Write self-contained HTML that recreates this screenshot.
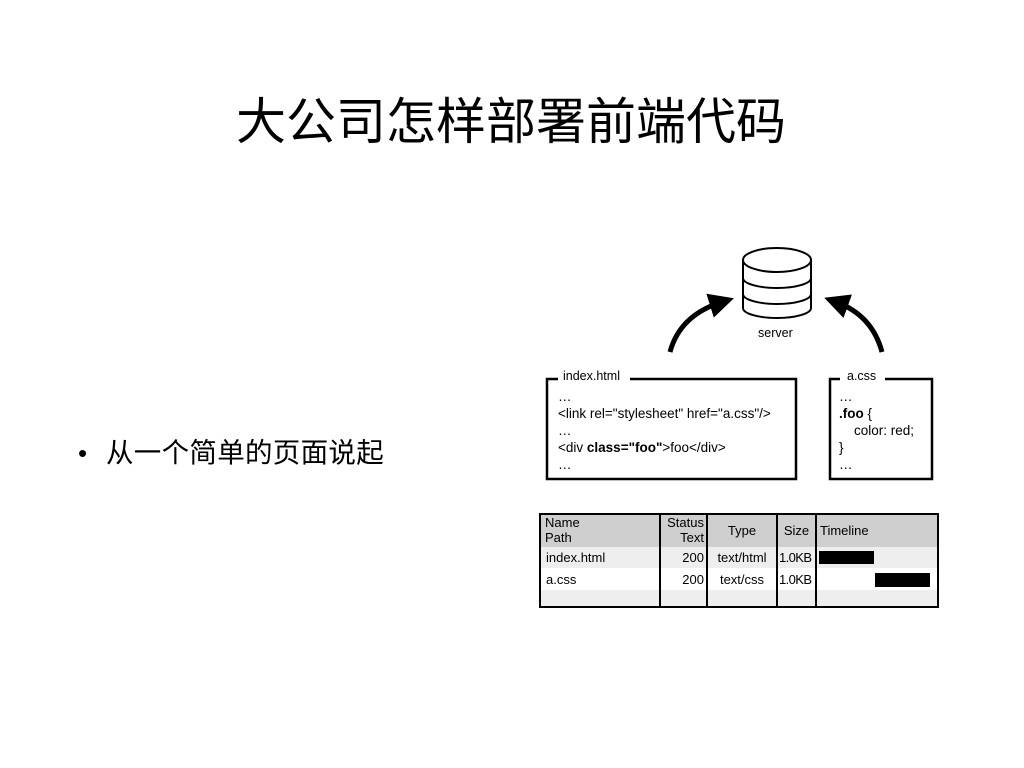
<!DOCTYPE html>
<html><head><meta charset="utf-8"><style>
body{margin:0;width:1024px;height:768px;background:#fff;position:relative;overflow:hidden;font-family:"Liberation Sans","Noto Sans CJK SC",sans-serif;color:#000}
.a{position:absolute;white-space:nowrap}
.s{font-size:12.5px}
.c{font-size:13.5px}
.t{font-size:13px}
</style></head><body>
<div class="a" style="left:0;width:1022px;top:90px;text-align:center;font-size:50px;line-height:64px">大公司怎样部署前端代码</div>
<div class="a" style="left:78px;top:436px;font-size:26px;line-height:34px">•</div>
<div class="a" style="left:106px;top:436px;font-size:27.5px;line-height:34px;letter-spacing:0.3px">从一个简单的页面说起</div>
<svg class="a" style="left:0;top:0" width="1024" height="768">
<defs><marker id="ah" markerWidth="5" markerHeight="5" refX="2.5" refY="2.5" orient="auto"><path d="M0,0 L5,2.5 L0,5 z" fill="#000"/></marker></defs>
<g stroke="#000" stroke-width="2" fill="#fff">
<path d="M743,260 L743,308 A34,10 0 0 0 811,308 L811,260"/>
<ellipse cx="777" cy="260" rx="34" ry="12"/>
<path d="M743,278 A34,10 0 0 0 811,278 M743,294 A34,10 0 0 0 811,294" fill="none"/>
</g>
<path d="M670,352 Q680,315 722,302" stroke="#000" stroke-width="5" fill="none" marker-end="url(#ah)"/>
<path d="M882,352 Q872,315 836,302" stroke="#000" stroke-width="5" fill="none" marker-end="url(#ah)"/>
<g stroke="#000" stroke-width="2.5" fill="none">
<path d="M558,379 L547,379 L547,479 L796,479 L796,379 L630,379"/>
<path d="M840,379 L830,379 L830,479 L932,479 L932,379 L885,379"/>
</g>
<rect x="540" y="514" width="398" height="33" fill="#cfcfcf"/>
<rect x="540" y="547" width="398" height="21" fill="#eee"/>
<rect x="540" y="590" width="398" height="17" fill="#eee"/>
<g stroke="#000" stroke-width="2" fill="none">
<rect x="540" y="514" width="398" height="93"/>
<path d="M660,514V607 M707,514V607 M777,514V607 M816,514V607"/>
</g>
<rect x="819" y="551" width="55" height="13" fill="#000"/>
<rect x="875" y="573" width="55" height="14" fill="#000"/>
</svg>
<div class="a s" style="left:758px;top:326px">server</div>
<div class="a s" style="left:563px;top:369px">index.html</div>
<div class="a s" style="left:847px;top:369px">a.css</div>
<div class="a c" style="left:558px;top:388px;line-height:17px">…<br>&lt;link rel="stylesheet" href="a.css"/&gt;<br>…<br>&lt;div <b>class="foo"</b>&gt;foo&lt;/div&gt;<br>…</div>
<div class="a c" style="left:839px;top:388px;line-height:17px">…<br><b>.foo</b> {<br>&nbsp;&nbsp;&nbsp; color: red;<br>}<br>…</div>
<div class="a t" style="left:545px;top:515px;line-height:15px">Name<br>Path</div>
<div class="a t" style="left:660px;width:44px;text-align:right;top:515px;line-height:15px">Status<br>Text</div>
<div class="a t" style="left:707px;width:70px;text-align:center;top:523px">Type</div>
<div class="a t" style="left:777px;width:39px;text-align:center;top:523px">Size</div>
<div class="a t" style="left:820px;top:523px">Timeline</div>
<div class="a t" style="left:546px;top:550px">index.html</div>
<div class="a t" style="left:660px;width:44px;text-align:right;top:550px">200</div>
<div class="a t" style="left:707px;width:70px;text-align:center;top:550px">text/html</div>
<div class="a t" style="left:779px;top:550px;letter-spacing:-0.6px">1.0KB</div>
<div class="a t" style="left:546px;top:572px">a.css</div>
<div class="a t" style="left:660px;width:44px;text-align:right;top:572px">200</div>
<div class="a t" style="left:707px;width:70px;text-align:center;top:572px">text/css</div>
<div class="a t" style="left:779px;top:572px;letter-spacing:-0.6px">1.0KB</div>
</body></html>
